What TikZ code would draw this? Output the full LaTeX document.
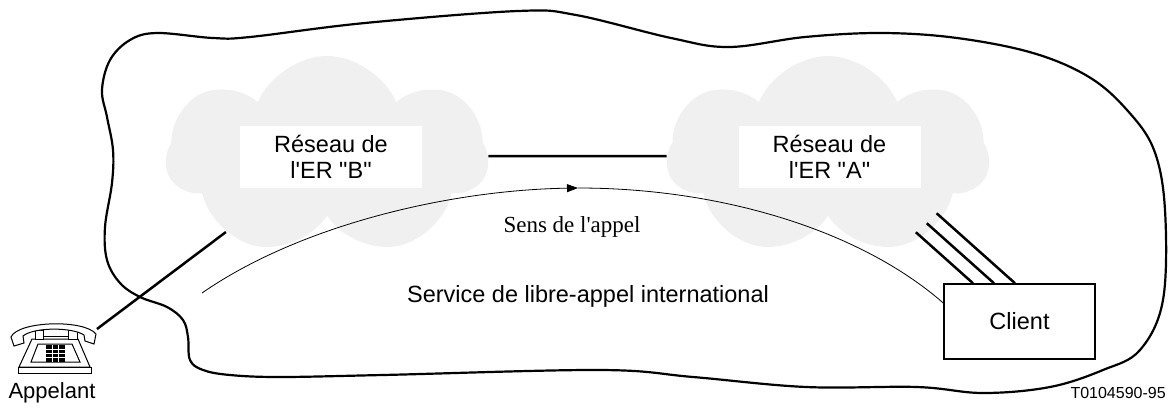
\documentclass[tikz,border=0pt]{standalone}
\usepackage{fontspec}
\usepackage{tikz}
\usetikzlibrary{arrows.meta}
\usetikzlibrary{shapes.symbols}
\usetikzlibrary{positioning}
\newfontfamily\netfont{Liberation Sans}
\newfontfamily\sensfont{Liberation Serif}
\definecolor{cloudgray}{gray}{0.94}
\tikzset{network/.style={cloud, cloud puffs=7, cloud puff arc=135,
    cloud ignores aspect, fill=cloudgray, inner sep=0pt,
    minimum width=322pt, minimum height=200pt}}
\tikzset{netlabel/.style={fill=white, inner sep=0pt, align=center,
    minimum width=182pt, minimum height=62pt,
    font=\netfont\fontsize{23.5}{26}\selectfont}}
\tikzset{clientbox/.style={draw, line width=1.5pt,
    minimum width=151pt, minimum height=75pt,
    font=\netfont\fontsize{23.5}{26}\selectfont}}
\tikzset{trunk/.style={line width=2.5pt}}

\begin{document}
\begin{tikzpicture}[x=1pt,y=-1pt,
      >={Triangle[length=11pt,width=8pt]},
      semithick]
    \useasboundingbox (0,0) rectangle (1171,410);

    % international service area
    \draw[line width=2.2pt] plot[smooth cycle, tension=0.6] coordinates {
      (107,117) (102,90) (110,60) (130,40) (157,33) (213,38) (250,37)
      (365,23) (518,11) (576,15) (671,38) (729,47) (805,37) (882,33)
      (957,38) (1033,53) (1089,77) (1127,110) (1154,150) (1165,210)
      (1163,300) (1140,350) (1103,370) (1050,387) (983,393) (917,387)
      (806,387) (693,377) (600,370) (383,375) (280,377) (230,375)
      (203,370) (190,360) (188,337) (183,320) (167,307) (140,297)
      (120,283) (107,260) (105,227) (112,183) (113,150)};

    \node[network] (cloudB) at (327,156) {};
    \node[network, shape border rotate=20] (cloudA) at (828,156) {};
    \node[netlabel] (erB) at (331,157) {Réseau de\\l'ER "B"};
    \node[netlabel] (erA) at (829.5,157) {Réseau de\\l'ER "A"};

    \node[clientbox] (client) at (1019.5,321.5) {Client};

    \node[anchor=base, font=\sensfont\fontsize{23}{26}\selectfont]
      (sens) at (572,232) {Sens de l'appel};
    \node[anchor=base, font=\netfont\fontsize{23.5}{26}\selectfont]
      (service) at (588,302) {Service de libre-appel international};
    \node[anchor=base, font=\netfont\fontsize{22}{26}\selectfont]
      (caller) at (52,398) {Appelant};
    \node[anchor=base east, inner sep=0pt, font=\netfont\fontsize{16}{18}\selectfont]
      (figref) at (1166,398) {T0104590-95};

    % telephone
    \begin{scope}[line width=1pt]
      \draw[fill=white] (19,367) -- (32,339) -- (78,339) -- (90,367) -- cycle;
      \draw[fill=white] (18,367) rectangle (91,373);
      \draw (38,344) -- (72,344) -- (80,362) -- (31,362) -- cycle;
      \fill (46,345) rectangle (65,362);
      \foreach \kx in {52.5,58.5}
        \draw[white, line width=0.6pt] (\kx,345) -- (\kx,362);
      \foreach \ky in {349,353,357.5}
        \draw[white, line width=0.6pt] (46,\ky) -- (65,\ky);
      \draw[fill=white] (35,330) rectangle (43,339);
      \draw[fill=white] (68,330) rectangle (77,339);
      \draw (43,336) -- (68,336);
      \draw[fill=white] (14,346) -- (11,337)
        .. controls (18,321) and (84,319) .. (96,334)
        -- (94,344) -- (85,341) -- (84,335)
        .. controls (72,327) and (34,327) .. (23,336)
        -- (24,343) -- cycle;
    \end{scope}
    \coordinate (cord) at (97,329);

    \path
      (cord) edge[trunk] (cloudB)
      (cloudB) edge[trunk] (cloudA);
    \foreach \dx/\k in {-46.5/51, -25.5/60, -4.5/70}
      \draw[trunk] ([xshift=\dx pt]client.north) -- ++(-1.12*\k,-\k);

    % direction of the call
    \coordinate (callstart) at (202,293);
    \coordinate (callmid) at (578,188);
    \draw[line width=0.8pt,->] (callstart)
      .. controls (300,225) and (450,190) .. (callmid);
    \draw[line width=0.8pt] (callmid)
      .. controls (720,188) and (860,230) .. ([yshift=18.5pt]client.west);
  \end{tikzpicture}
\end{document}
